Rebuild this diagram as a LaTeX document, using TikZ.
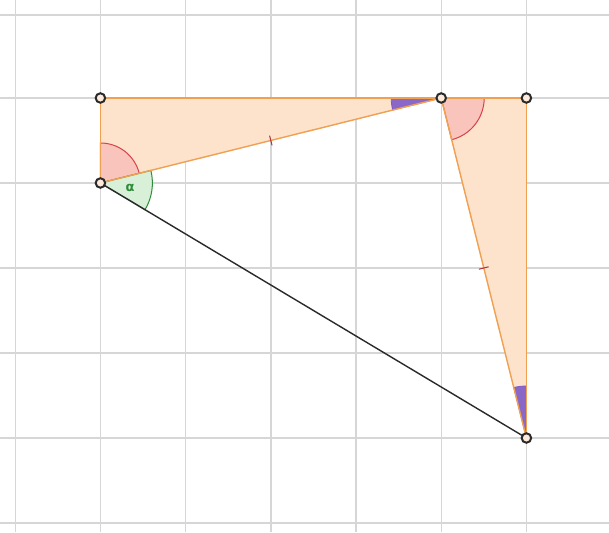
\documentclass[tikz,border=0pt]{standalone}
\usepackage{fontspec}
\setmainfont{DejaVu Sans}
\usetikzlibrary{calc}
\definecolor{gridc}{HTML}{D6D6D6}
\definecolor{edgec}{HTML}{F0A050}
\definecolor{fillc}{HTML}{FDE2CC}
\definecolor{redc}{HTML}{D8424A}
\definecolor{redf}{HTML}{F8C4BC}
\definecolor{greenc}{HTML}{2E8B3A}
\definecolor{greenf}{HTML}{D8F0D8}
\definecolor{purc}{HTML}{7E5BC8}
\definecolor{ptc}{HTML}{2A2A2A}
\begin{document}
\begin{tikzpicture}[x=1pt,y=1pt,
  gridline/.style={gridc,line width=1.4pt},
  edge/.style={edgec,line width=1.4pt},
  tri/.style={fill=fillc},
  redang/.style={fill=redf,draw=redc,line width=1pt},
  greenang/.style={fill=greenf,draw=greenc,line width=1pt},
  purang/.style={fill=purc,fill opacity=0.9,draw=purc,line width=0.8pt},
  tickmark/.style={redc!80!black,line width=1pt},
  pt/.style={circle,draw=ptc,line width=2pt,fill=fillc!70!white,inner sep=0pt,minimum size=9.5pt}]
\useasboundingbox (0,0) rectangle (609,532);
\fill[white] (0,0) rectangle (609,532);
% grid
\foreach \gx in {15.2,100.4,185.6,270.8,356,441.2,526.4}
  \draw[gridline] (\gx,0) -- (\gx,532);
\foreach \gy in {9,94,179,264,349,434,517}
  \draw[gridline] (0,\gy) -- (609,\gy);
% points (coordinates)
\coordinate (a) at (100.4,434);
\coordinate (b) at (100.4,349);
\coordinate (c) at (441.2,434);
\coordinate (d) at (526.4,434);
\coordinate (e) at (526.4,94);
% triangle fills
\fill[tri] (a) -- (b) -- (c) -- cycle;
\fill[tri] (c) -- (d) -- (e) -- cycle;
% angles
\draw[redang] (b) -- ++(14.0:40pt) arc[start angle=14.0,end angle=90,radius=40pt] -- cycle;
\draw[greenang] (b) -- ++(-30.9:52pt) arc[start angle=-30.9,end angle=14.0,radius=52pt] -- cycle;
\node[greenc,font=\fontsize{13}{13}\bfseries] (alpha) at ($(b)+(-9:30pt)$) {α};
\draw[purang] (c) -- ++(180:50pt) arc[start angle=180,end angle=194.0,radius=50pt] -- cycle;
\draw[redang] (c) -- ++(-75.93:43pt) arc[start angle=-75.93,end angle=0,radius=43pt] -- cycle;
\draw[purang] (e) -- ++(90:52pt) arc[start angle=90,end angle=104.07,radius=52pt] -- cycle;
% edges
\draw[edge] (a) -- (b);
\draw[edge] (a) -- (c);
\draw[edge] (b) -- (c);
\draw[edge] (c) -- (d);
\draw[edge] (d) -- (e);
\draw[edge] (c) -- (e);
\draw[ptc,line width=1.4pt] (b) -- (e);
% ticks
\coordinate (mbc) at ($(b)!0.5!(c)$);
\coordinate (mce) at ($(c)!0.5!(e)$);
\draw[tickmark] ($(mbc)!5pt!90:(c)$) -- ($(mbc)!5pt!-90:(c)$);
\draw[tickmark] ($(mce)!5pt!90:(e)$) -- ($(mce)!5pt!-90:(e)$);
% point markers
\node[pt] (A) at (a) {};
\node[pt] (B) at (b) {};
\node[pt] (C) at (c) {};
\node[pt] (D) at (d) {};
\node[pt] (E) at (e) {};
\end{tikzpicture}
\end{document}
